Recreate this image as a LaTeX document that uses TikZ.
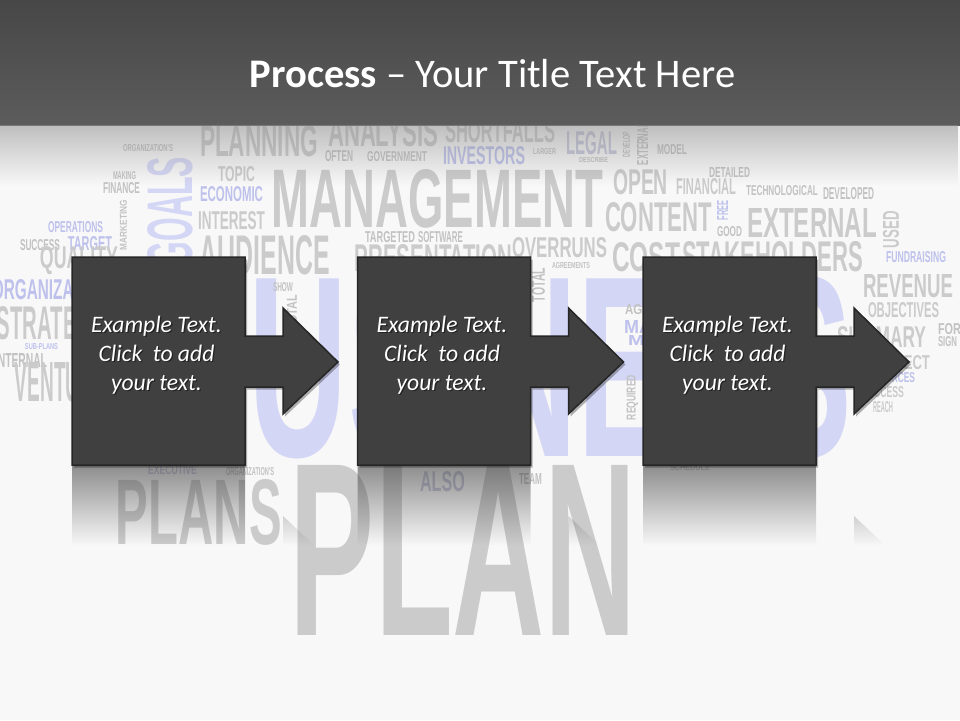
\documentclass[tikz,border=0pt]{standalone}
\usepackage{fontspec}
\setmainfont{Carlito}
\newfontfamily\cloudfont{Liberation Sans}
\usetikzlibrary{fadings,shadows}

\definecolor{bg}{HTML}{F8F8F8}
\definecolor{cgray}{HTML}{CBCBCB}
\definecolor{csmall}{HTML}{C2C2C2}
\definecolor{clav}{HTML}{D4D6F5}
\definecolor{cblue}{HTML}{BDC1EC}
\definecolor{clavg}{HTML}{C6C7DC}
\definecolor{boxfill}{HTML}{404040}
\definecolor{boxline}{HTML}{262626}
\definecolor{bartop}{HTML}{474747}
\definecolor{barbot}{HTML}{5C5C5C}
\definecolor{barover}{HTML}{909090}

\tikzfading[name=reflfade, top color=transparent!42, bottom color=transparent!100]
\tikzfading[name=barfade, top color=transparent!45, bottom color=transparent!100]

\newcount\cwn
% word of the cloud fitted into the box x1 y1 x2 y2
\newcommand\cw[6]{%
  \global\advance\cwn by 1
  \pgfmathsetlengthmacro\cwW{(#3)-(#1)}%
  \pgfmathsetlengthmacro\cwH{(#4)-(#2)}%
  \node[cloudword, text=#5] (w\the\cwn) at ({(#1+#3)/2},{(#2+#4)/2}) {\resizebox{\cwW}{\cwH}{#6}};}
% rotated word (reads bottom to top)
\newcommand\cwr[6]{%
  \global\advance\cwn by 1
  \pgfmathsetlengthmacro\cwW{(#4)-(#2)}%
  \pgfmathsetlengthmacro\cwH{(#3)-(#1)}%
  \node[cloudword, text=#5, rotate=90] (w\the\cwn) at ({(#1+#3)/2},{(#2+#4)/2}) {\resizebox{\cwW}{\cwH}{#6}};}
% one line of step text with shadow
\newcommand\tline[4]{%
  \node[lineshadow] (#1s) at (#2+1.3,#3+1.6) {#4};
  \node[linetext] (#1) at (#2,#3) {#4};}
% step box with arrow
\newcommand\stepshape[2]{%
  \begin{scope}[xshift=#2pt]
  \path[stepbox] (72,257) coordinate (#1) -- (245,257) -- (245,336) -- (283,336) -- (283,308)
     -- (338,362) coordinate (#1tip) -- (283,414) -- (283,387) -- (245,387) -- (245,465) -- (72,465) -- cycle;
  \end{scope}}
\newcommand\stepreflect[1]{%
  \begin{scope}[xshift=#1pt]
  \fill[boxfill, path fading=reflfade] (72,465) rectangle (245,545)
     (283,516) -- (313.7,545) -- (283,545) -- cycle;
  \end{scope}}

\tikzset{
  cloudword/.style={inner sep=0pt, outer sep=0pt, font=\cloudfont\bfseries},
  stepbox/.style={fill=boxfill, draw=boxline, line width=1.5pt, line join=miter,
    drop shadow={shadow xshift=2pt, shadow yshift=-2.5pt, opacity=0.3, fill=black}},
  linetext/.style={anchor=base, inner sep=0pt, text=white, font=\fontsize{23.6}{28}\selectfont\itshape},
  lineshadow/.style={linetext, text=black, opacity=0.45},
  titletext/.style={anchor=base, inner sep=0pt, text=white, font=\fontsize{40.6}{48}\selectfont}
}

\begin{document}
\begin{tikzpicture}[x=1pt,y=-1pt]
\useasboundingbox (0,0) rectangle (960,720);
\clip (0,0) rectangle (960,720);
\fill[bg] (0,0) rectangle (960,720);

% ---- word cloud background ----
\cw{150}{278}{852}{458}{clav}{BUSINESS}
\cw{200}{126}{318}{157}{cgray}{PLANNING}
\cw{328}{118}{438}{147}{cgray}{ANALYSIS}
\cw{445}{120}{555}{143}{cgray}{SHORTFALLS}
\cw{123}{145}{173}{152}{csmall}{ORGANIZATION'S}
\cw{325}{151}{353}{162}{csmall}{OFTEN}
\cw{367}{152}{427}{162}{csmall}{GOVERNMENT}
\cw{443}{147}{525}{165}{cblue}{INVESTORS}
\cw{533}{149}{556}{155}{csmall}{LARGER}
\cw{566}{132}{617}{155}{clavg}{LEGAL}
\cw{579}{158}{608}{163}{csmall}{DESCRIBE}
\cwr{623}{132}{630}{157}{csmall}{DEVELOP}
\cwr{637}{123}{648}{165}{csmall}{EXTERNAL}
\cw{657}{145}{687}{155}{csmall}{MODEL}
\cw{113}{172}{136}{180}{csmall}{MAKING}
\cw{103}{183}{140}{194}{csmall}{FINANCE}
\cwr{148}{157}{193}{265}{clav}{GOALS}
\cw{218}{167}{255}{182}{cgray}{TOPIC}
\cw{200}{187}{263}{202}{cblue}{ECONOMIC}
\cw{198}{212}{265}{230}{cgray}{INTEREST}
\cwr{120}{200}{127}{250}{csmall}{MARKETING}
\cw{48}{222}{103}{233}{cblue}{OPERATIONS}
\cw{20}{240}{60}{251}{csmall}{SUCCESS}
\cw{68}{237}{112}{251}{cblue}{TARGET}
\cw{200}{236}{330}{275}{cgray}{AUDIENCE}
\cw{272}{170}{603}{228}{cgray}{MANAGEMENT}
\cw{365}{232}{415}{243}{csmall}{TARGETED}
\cw{418}{232}{463}{243}{csmall}{SOFTWARE}
\cw{355}{245}{512}{272}{cgray}{PRESENTATION}
\cw{40}{250}{118}{272}{cgray}{QUALITY}
\cw{613}{170}{668}{195}{cgray}{OPEN}
\cw{709}{167}{750}{177}{csmall}{DETAILED}
\cw{676}{179}{736}{195}{cgray}{FINANCIAL}
\cw{746}{186}{818}{196}{csmall}{TECHNOLOGICAL}
\cw{823}{188}{874}{200}{csmall}{DEVELOPED}
\cw{605}{203}{712}{232}{cgray}{CONTENT}
\cwr{717}{200}{728}{220}{cblue}{FREE}
\cw{717}{227}{742}{237}{csmall}{GOOD}
\cw{747}{208}{877}{237}{cgray}{EXTERNAL}
\cwr{883}{211}{899}{248}{cgray}{USED}
\cw{512}{238}{607}{258}{cgray}{OVERRUNS}
\cw{612}{243}{680}{272}{cgray}{COST}
\cw{682}{242}{863}{272}{cgray}{STAKEHOLDERS}
\cw{886}{252}{946}{263}{cblue}{FUNDRAISING}
\cw{-8}{280}{109}{300}{cblue}{ORGANIZATION}
\cw{-3}{307}{106}{340}{cgray}{STRATEGY}
\cw{25}{344}{58}{350}{cblue}{SUB-PLANS}
\cw{-5}{353}{47}{367}{csmall}{INTERNAL}
\cw{15}{363}{106}{402}{cgray}{VENTURE}
\cw{273}{283}{293}{292}{csmall}{SHOW}
\cwr{287}{295}{297}{330}{csmall}{TOTAL}
\cw{552}{263}{590}{269}{csmall}{AGREEMENTS}
\cwr{532}{268}{545}{302}{csmall}{TOTAL}
\cw{625}{305}{650}{315}{csmall}{AGE}
\cw{624}{320}{652}{333}{cblue}{MA}
\cw{628}{335}{650}{345}{cblue}{MI}
\cwr{628}{375}{637}{420}{csmall}{REQUIRED}
\cw{863}{275}{953}{298}{cgray}{REVENUE}
\cw{868}{303}{939}{318}{cgray}{OBJECTIVES}
\cw{837}{327}{926}{348}{cgray}{SUMMARY}
\cw{938}{324}{970}{335}{csmall}{FORM}
\cw{938}{337}{957}{347}{csmall}{SIGN}
\cw{868}{356}{930}{370}{cgray}{PROJECT}
\cw{862}{373}{915}{383}{cblue}{RESOURCES}
\cw{862}{387}{904}{398}{cgray}{SUCCESS}
\cw{873}{402}{893}{413}{cgray}{REACH}
\cw{116}{480}{282}{545}{cgray}{PLANS}
\cw{148}{466}{197}{475}{clavg}{EXECUTIVE}
\cw{226}{468}{274}{476}{csmall}{ORGANIZATION'S}
\cw{290}{465}{637}{635}{cgray}{PLAN}
\cw{420}{472}{465}{492}{clavg}{ALSO}
\cw{519}{473}{542}{484}{csmall}{TEAM}
\cw{670}{465}{710}{471}{csmall}{SCHEDULE}

% ---- title bar ----
\shade[top color=bartop, bottom color=barbot] (0,0) rectangle (960,125);
\fill[barover, path fading=barfade] (0,125) rectangle (960,185);
\node[titletext] (title) at (492.5,87) {\textbf{Process} – Your Title Text Here};

% ---- reflections ----
\stepreflect{0}
\stepreflect{285.5}
\stepreflect{571}

% ---- step shapes ----
\stepshape{s1}{0}
\stepshape{s2}{285.5}
\stepshape{s3}{571}

% ---- step texts ----
\tline{t1a}{156.5}{332}{Example Text.}
\tline{t1b}{156.5}{361}{Click\ \ to add}
\tline{t1c}{156.5}{390}{your text.}
\tline{t2a}{442}{332}{Example Text.}
\tline{t2b}{442}{361}{Click\ \ to add}
\tline{t2c}{442}{390}{your text.}
\tline{t3a}{727.5}{332}{Example Text.}
\tline{t3b}{727.5}{361}{Click\ \ to add}
\tline{t3c}{727.5}{390}{your text.}
\end{tikzpicture}
\end{document}
